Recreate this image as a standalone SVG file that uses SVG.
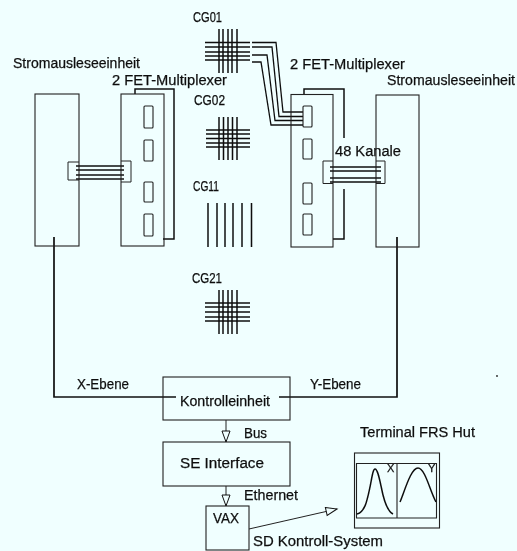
<svg xmlns="http://www.w3.org/2000/svg" width="517" height="551" viewBox="0 0 517 551">
<defs>
<filter id="soft" x="-2%" y="-2%" width="104%" height="104%"><feGaussianBlur stdDeviation="0.35"/></filter>
<marker id="open" markerUnits="userSpaceOnUse" markerWidth="14" markerHeight="12" refX="12" refY="5" orient="auto"><path d="M1,1 L12,5 L1,9 Z" fill="#f0ffff" stroke="#111" stroke-width="1"/></marker>
</defs>
<style>
text{font-family:"Liberation Sans","DejaVu Sans",sans-serif;font-size:14px;fill:#111;stroke:#111;stroke-width:0.25}
.box{fill:none;stroke:#222;stroke-width:1.1}
.thin{fill:none;stroke:#222;stroke-width:1}
.wire{fill:none;stroke:#111;stroke-width:1.3}
.med{fill:none;stroke:#111;stroke-width:1.5}
.heavy{fill:none;stroke:#111;stroke-width:1.7}
</style>
<rect width="517" height="551" fill="#f0ffff"/>
<g filter="url(#soft)">
<g id="connectors">
<path class="heavy" d="M54,237V397H176"/>
<path class="heavy" d="M397,237V397H279"/>
<path class="thin" d="M226,420V442" marker-end="url(#open)"/>
<path class="thin" d="M226,486V506" marker-end="url(#open)"/>
<path class="thin" d="M249,529L337,509" marker-end="url(#open)"/>
<path class="wire" d="M252,42.500H276L283,112H303M252,47H272L279,116.500H303M252,55H267L275,120.500H303M252,62H261L271,125H303"/>
<path class="med" d="M76,166H124M76,170H124M76,175H124M76,179H124"/>
<path class="med" d="M330,167H381M330,171H381M330,178H381M330,182H381"/>
</g>
<g id="readout-left">
<rect class="box" x="35" y="94" width="44" height="152"/>
<path class="thin" d="M79,162H68V180H79"/>
<text x="13" y="68" textLength="127" lengthAdjust="spacingAndGlyphs">Stromausleseeinheit</text>
</g>
<g id="mux-left">
<path class="med" d="M135,94V89H174V239H163"/>
<rect class="box" x="121" y="94" width="43" height="152"/>
<rect class="box" x="144" y="106" width="9" height="22" rx="1"/>
<rect class="box" x="144" y="140" width="9" height="21" rx="1"/>
<rect class="box" x="144" y="182" width="9" height="20" rx="1"/>
<rect class="box" x="144" y="214" width="9" height="22" rx="1"/>
<path class="thin" d="M121,161H131V182H121"/>
<text x="112" y="85" textLength="115" lengthAdjust="spacingAndGlyphs">2 FET-Multiplexer</text>
</g>
<g id="mux-right">
<path class="med" d="M304,94V89H344V138M344,189V239H333"/>
<rect class="box" x="291" y="94.500" width="42" height="152.500"/>
<rect class="box" x="303" y="106" width="9" height="21" rx="1" stroke-width="1.500"/>
<rect class="box" x="303" y="139" width="9" height="20" rx="1"/>
<rect class="box" x="303" y="183" width="9" height="21" rx="1"/>
<rect class="box" x="303" y="214" width="9" height="21" rx="1"/>
<path class="thin" d="M333,161H323V183.500H333"/>
<text x="290" y="69" textLength="115" lengthAdjust="spacingAndGlyphs">2 FET-Multiplexer</text>
<text x="335" y="156" textLength="66" lengthAdjust="spacingAndGlyphs">48 Kanale</text>
</g>
<g id="readout-right">
<rect class="box" x="376" y="95" width="43" height="152"/>
<path class="thin" d="M376,161H385V183.500H376"/>
<text x="387" y="85" textLength="128" lengthAdjust="spacingAndGlyphs">Stromausleseeinheit</text>
</g>
<g id="cg01">
<path class="med" d="M219,29V73M223,29V73M228,29V73M232,29V73M237,29V73M205,42.500H250M205,47H250M205,52H250M205,56H250M205,60H250"/>
<text x="193" y="22" textLength="29" lengthAdjust="spacingAndGlyphs">CG01</text>
</g>
<g id="cg02">
<path class="med" d="M219,117V160M223.500,117V160M228,117V160M232.500,117V160M237,117V160M206,130H250M206,134H250M206,138.500H250M206,143H250M206,147H250"/>
<text x="194" y="105" textLength="31" lengthAdjust="spacingAndGlyphs">CG02</text>
</g>
<g id="cg11">
<path class="med" d="M208,203V247M217,203V247M225,203V247M233,203V247M242,203V247M251.500,203V247"/>
<text x="193" y="191" textLength="26" lengthAdjust="spacingAndGlyphs">CG11</text>
</g>
<g id="cg21">
<path class="med" d="M219,290V334M223,290V334M228,290V334M232,290V334M237,290V334M205,303H250M205,307H250M205,312H250M205,317H250M205,321H250"/>
<text x="192" y="283" textLength="30" lengthAdjust="spacingAndGlyphs">CG21</text>
</g>
<g id="kontrolleinheit">
<rect class="box" x="163" y="377" width="127" height="43"/>
<text x="180" y="406" textLength="90" lengthAdjust="spacingAndGlyphs">Kontrolleinheit</text>
</g>
<g id="se-interface">
<rect class="box" x="163" y="442" width="127" height="44"/>
<text x="180" y="468" textLength="84" lengthAdjust="spacingAndGlyphs">SE Interface</text>
</g>
<g id="vax">
<rect class="box" x="206" y="506" width="43" height="44"/>
<text x="213" y="523" textLength="26" lengthAdjust="spacingAndGlyphs">VAX</text>
</g>
<g id="terminal">
<rect class="box" x="354.500" y="453" width="85" height="75"/>
<path class="box" d="M356.500,463.500H436.500V518H356.500ZM397,463.500V518"/>
<path class="med" d="M357,514C365,512 367,501 370,487C372,477 373,469 375,469C378,469 380,482 383,495C386,507 389,512 393,514"/>
<path class="med" d="M400,502C405,490 411,468 418,468C425,468 430,491 436,502"/>
<text x="387" y="472" style="font-size:11px">X</text>
<text x="428" y="472" style="font-size:11px">Y</text>
<text x="360" y="437" textLength="115" lengthAdjust="spacingAndGlyphs">Terminal FRS Hut</text>
</g>
<g id="labels">
<text x="77" y="389" textLength="52" lengthAdjust="spacingAndGlyphs">X-Ebene</text>
<text x="310" y="389" textLength="51" lengthAdjust="spacingAndGlyphs">Y-Ebene</text>
<text x="244" y="438" textLength="23" lengthAdjust="spacingAndGlyphs">Bus</text>
<text x="244" y="500" textLength="54" lengthAdjust="spacingAndGlyphs">Ethernet</text>
<text x="253" y="546" textLength="130" lengthAdjust="spacingAndGlyphs">SD Kontroll-System</text>
</g>
<circle cx="497" cy="376" r="0.900" fill="#222"/>
</g>
</svg>
